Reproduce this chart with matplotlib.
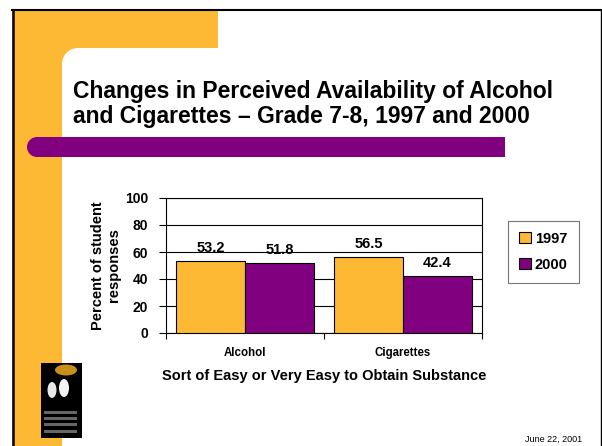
import numpy as np
import matplotlib
matplotlib.use("Agg")
import matplotlib.pyplot as plt
from matplotlib.patches import Rectangle, Circle, Ellipse

plt.rcParams['font.family'] = ['Liberation Sans', 'DejaVu Sans']

# data
categories = ["Alcohol", "Cigarettes"]
years = ["1997", "2000"]
vals_1997 = [53.2, 56.5]
vals_2000 = [51.8, 42.4]
yticks = [0, 20, 40, 60, 80, 100]

orange = "#FDB933"
purple = "#800080"

W, H = 602, 446
fig = plt.figure(figsize=(W / 100, H / 100), dpi=100)

# slide background, drawn in pixel coords
bg = fig.add_axes([0, 0, 1, 1])
bg.set_xlim(0, W)
bg.set_ylim(H, 0)
bg.axis("off")

bg.add_patch(Rectangle((12, 10), 206, 38, color=orange, lw=0))
bg.add_patch(Rectangle((12, 10), 50, H, color=orange, lw=0))
# rounded inner corner
bg.add_patch(Rectangle((62, 48), 16, 16, color=orange, lw=0))
bg.add_patch(Circle((78, 64), 16, color="white", lw=0))
bg.add_patch(Rectangle((78, 48), 30, 30, color="white", lw=0))
bg.add_patch(Rectangle((62, 64), 30, 30, color="white", lw=0))

# slide border
bg.plot([12.5, 12.5], [H, 9.5], color="black", lw=1.8)
bg.plot([12, W], [9.5, 9.5], color="black", lw=1.5)
bg.plot([600.5, 600.5], [9.5, H], color="black", lw=1.0)

# purple bar under title
bg.add_patch(Rectangle((37, 137), 468, 20, color=purple, lw=0))
bg.add_patch(Circle((37, 147), 10, color=purple, lw=0))

# title
bg.text(73, 98, "Changes in Perceived Availability of Alcohol",
        fontsize=16.5, fontweight="bold", ha="left", va="baseline")
bg.text(73, 123, "and Cigarettes \u2013 Grade 7-8, 1997 and 2000",
        fontsize=16.5, fontweight="bold", ha="left", va="baseline")

# logo (rough)
bg.add_patch(Rectangle((41, 363), 41, 75, color="black", lw=0))
bg.add_patch(Ellipse((66, 370), 22, 11, color="#c8901a", lw=0))
bg.add_patch(Ellipse((52, 390), 9, 16, color="#e8e8e8", lw=0))
bg.add_patch(Ellipse((64, 388), 10, 18, color="#f4f4f4", lw=0))
for yy in [411, 417, 423, 430]:
    bg.add_patch(Rectangle((44, yy), 33, 2.5, color="#666666", lw=0))

# date
bg.text(582, 435, "June 22, 2001", fontsize=6.5, ha="right", va="top")

# chart
ax = fig.add_axes([166 / W, (H - 333) / H, 316 / W, 135 / H])
x = np.arange(len(categories))
bw = 0.434
ax.bar(x - bw / 2, vals_1997, bw, color=orange, edgecolor="black", lw=0.8,
       label=years[0], zorder=3)
ax.bar(x + bw / 2, vals_2000, bw, color=purple, edgecolor="black", lw=0.8,
       label=years[1], zorder=3)

for i in range(len(categories)):
    ax.text(x[i] - bw / 2, vals_1997[i] + 4.5, f"{vals_1997[i]:.1f}",
            ha="center", va="bottom", fontsize=10.5, fontweight="bold")
    ax.text(x[i] + bw / 2, vals_2000[i] + 4.5, f"{vals_2000[i]:.1f}",
            ha="center", va="bottom", fontsize=10.5, fontweight="bold")

ax.set_xlim(-0.5, len(categories) - 0.5)
ax.set_ylim(0, 100)
ax.set_yticks(yticks)
ax.set_yticklabels([str(t) for t in yticks], fontsize=10, fontweight="bold")
ax.yaxis.grid(True, color="black", lw=0.8, zorder=0)
ax.set_axisbelow(True)

# category boundary ticks, labels centered
ax.set_xticks(np.arange(len(categories) + 1) - 0.5)
ax.set_xticklabels([])
ax.set_xticks(x, minor=True)
ax.set_xticklabels(categories, minor=True, fontsize=8.3, fontweight="bold")
ax.tick_params(axis="x", which="minor", length=0, pad=10)
ax.tick_params(axis="x", which="major", length=4, width=0.8)
ax.tick_params(axis="y", length=5, width=0.8, pad=8)
for s in ax.spines.values():
    s.set_linewidth(0.8)

ax.set_xlabel("Sort of Easy or Very Easy to Obtain Substance",
              fontsize=10.5, fontweight="bold", labelpad=7)
ax.set_ylabel("Percent of student\nresponses", fontsize=10.5,
              fontweight="bold")
ax.yaxis.set_label_coords((121 - 166) / 316, 0.5)

leg = ax.legend(loc="upper left", bbox_to_anchor=((508 - 166) / 316, 1 - (221 - 198) / 135),
                prop={"weight": "bold", "size": 10.5},
                frameon=True, fancybox=False, edgecolor="#555555",
                handlelength=0.8, handleheight=0.8, handletextpad=0.3,
                borderpad=0.75, labelspacing=0.8, borderaxespad=0)
leg.get_frame().set_linewidth(0.8)

fig.savefig("out.png", dpi=100)
